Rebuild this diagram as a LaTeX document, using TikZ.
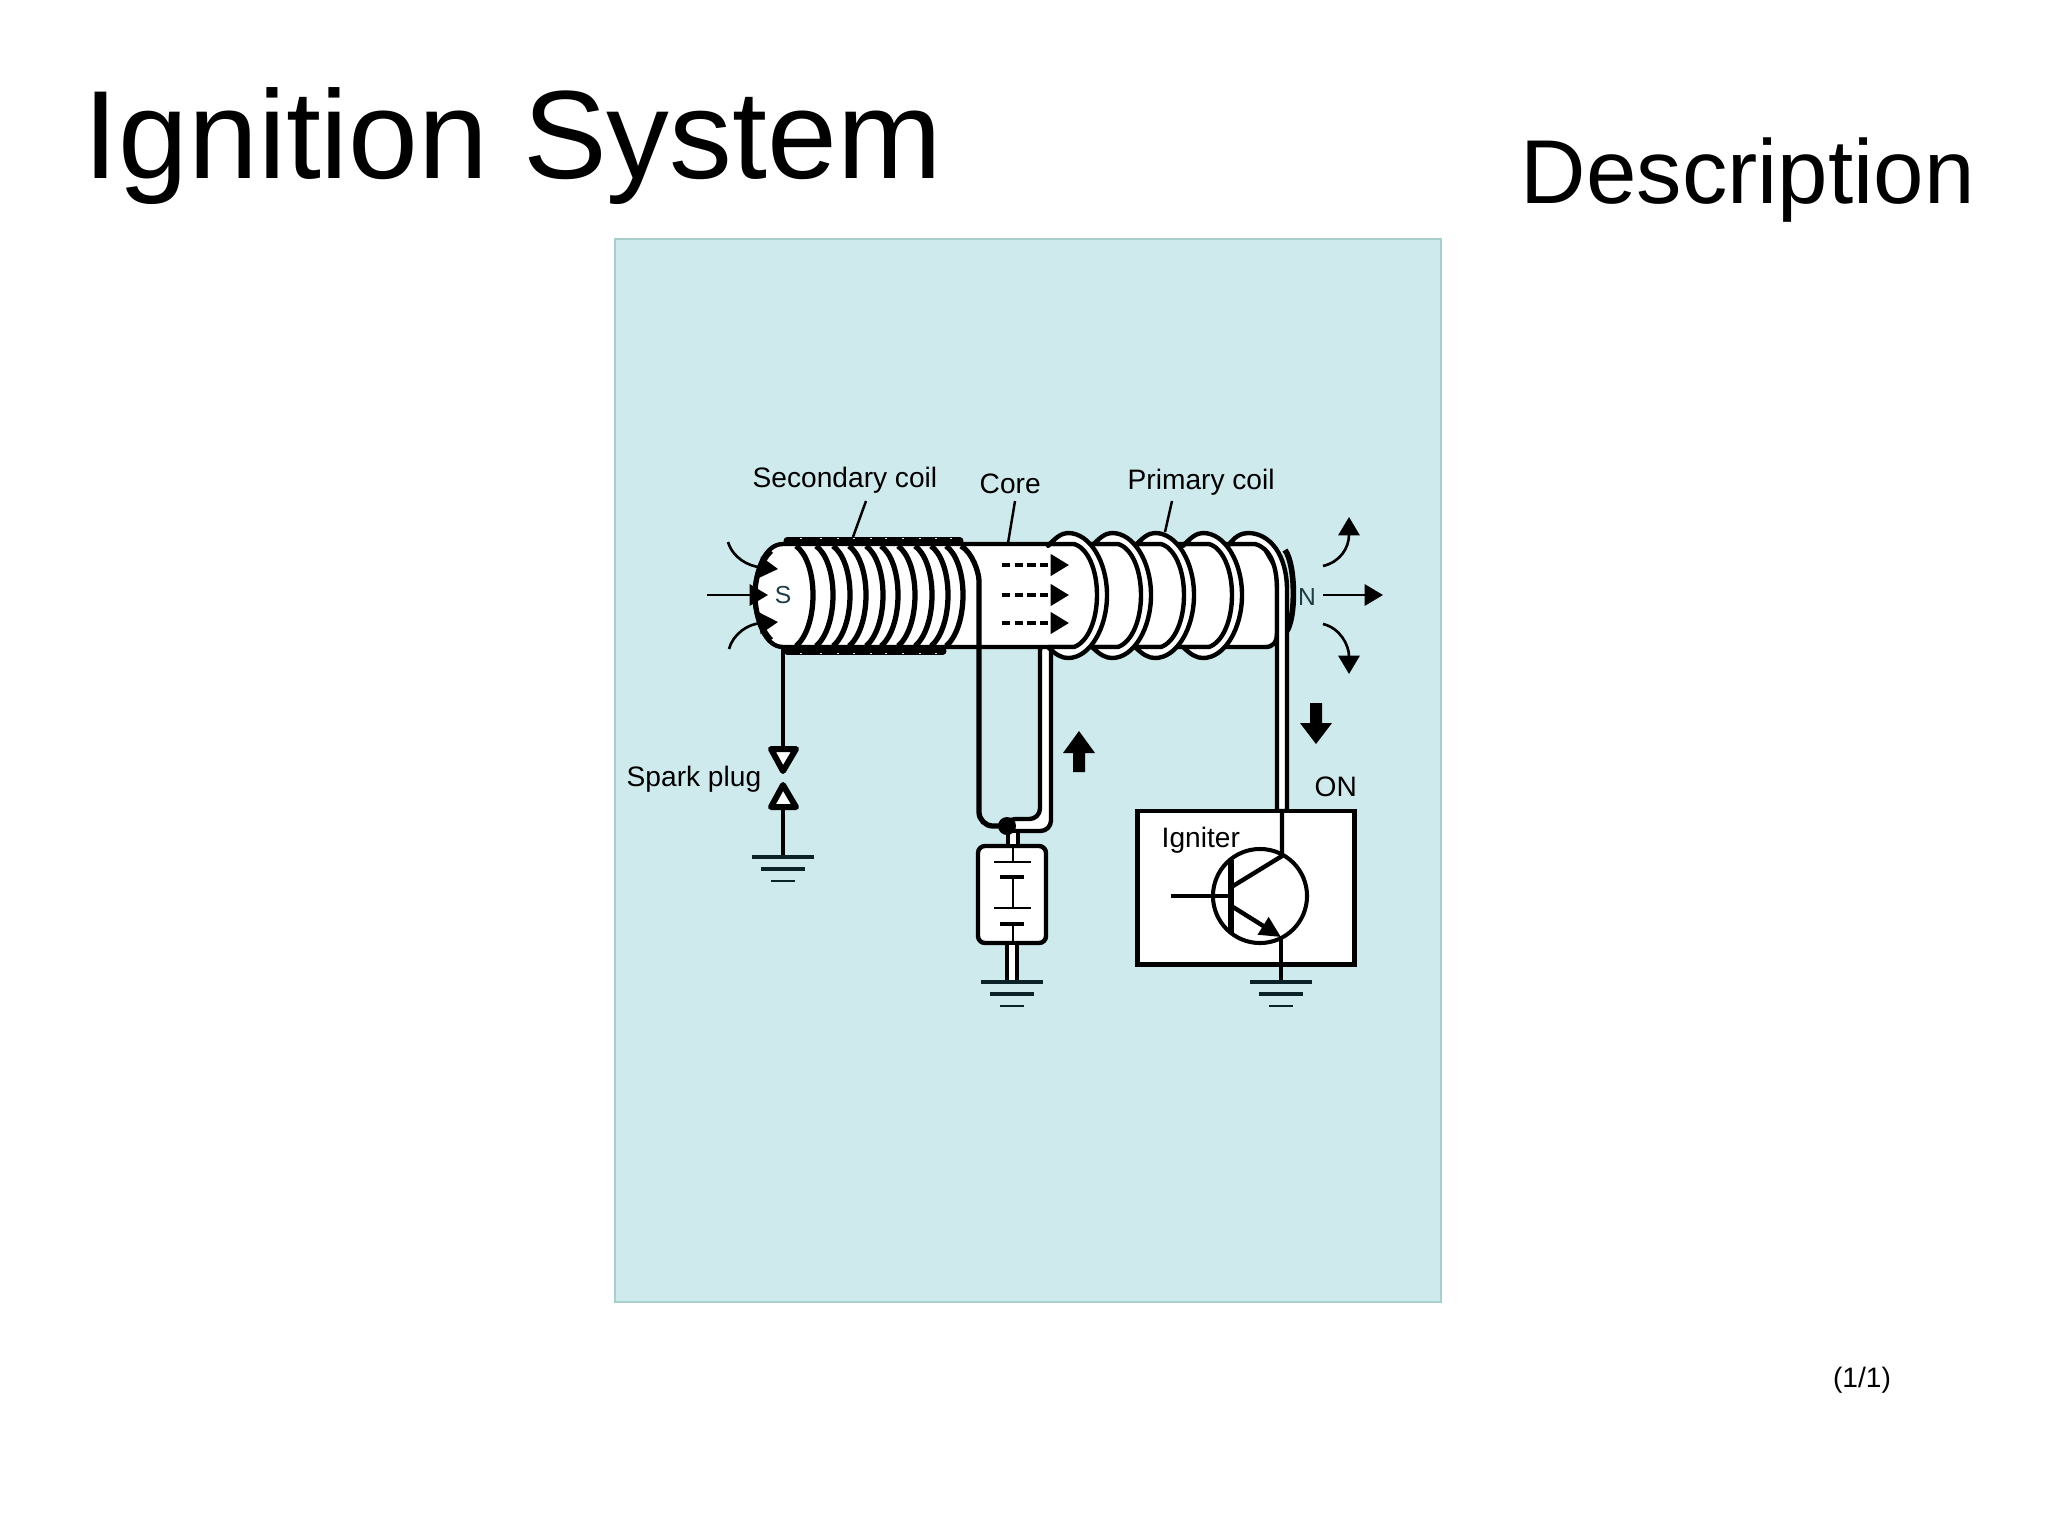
\documentclass[tikz,border=0pt]{standalone}
\usepackage{xcolor}
\usepackage{fontspec}
\setmainfont{Liberation Sans}
\usetikzlibrary{arrows.meta}

\definecolor{panelbg}{HTML}{CFEAED}
\definecolor{panelline}{HTML}{A8CFCC}
\definecolor{earthline}{HTML}{0A2228}
\definecolor{poletext}{HTML}{1C3C46}

\tikzset{
    wire/.style={line width=1.25pt, line join=round},
    coilturn/.style={line width=1.5pt},
    leader/.style={line width=0.7pt},
    field/.style={line width=0.75pt, -{Triangle[length=5.2pt,width=6pt]}},
    flux/.style={line width=1.05pt, dash pattern=on 2.4pt off 1.2pt, -{Triangle[length=5.2pt,width=6pt]}},
    label/.style={anchor=base west, inner sep=0pt, font=\fontsize{8}{10}\selectfont},
    pole/.style={inner sep=0pt, text=poletext, font=\fontsize{7}{8}\selectfont},
    block/.style={fill=black, line join=round},
    tipmark/.style={wire, fill=white, line width=1.7pt}
}

\begin{document}
\begin{tikzpicture}[x=0.01cm, y=-0.01cm]
    \useasboundingbox (0,0) rectangle (2048,1536);
    \fill[white] (0,0) rectangle (2048,1536);

    % Headings
    \node[anchor=base west, inner sep=0pt, font=\fontsize{35.7}{40}\selectfont] (title) at (83,178) {Ignition System};
    \node[anchor=base west, inner sep=0pt, font=\fontsize{25.8}{30}\selectfont] (subtitle) at (1520,203) {Description};
    \node[label, anchor=base] (pageno) at (1862,1387) {(1/1)};

    % Panel
    \draw[panelline, fill=panelbg, line width=0.6pt] (615,239) rectangle (1441,1302);

    % Labels
    \node[label] (lblsec) at (752,487) {Secondary coil};
    \node[label] (lblcore) at (979,493) {Core};
    \node[label] (lblpri) at (1127,489) {Primary coil};
    \node[label] (lblplug) at (626,786) {Spark plug};
    \node[label] (lblon) at (1314,796) {ON};
    \coordinate (secfrom) at (866,501);
    \coordinate (secto) at (853,537);
    \coordinate (corefrom) at (1015,501);
    \coordinate (coreto) at (1008,543);
    \coordinate (prifrom) at (1172,501);
    \coordinate (prito) at (1165,532);
    \draw[leader] (secfrom) -- (secto);
    \draw[leader] (corefrom) -- (coreto);
    \draw[leader] (prifrom) -- (prito);

    % Battery feed
    \draw[wire, fill=white, rounded corners=3pt] (1040,640) -- (1040,819) -- (1005,819) -- (1005,831)
        -- (1051,831) -- (1051,640) -- cycle;

    % Core
    \draw[wire, fill=white] (783,544) -- (1262,544) -- (1277,570) -- (1277,632)
        .. controls (1277,643) and (1273,647) .. (1265,647) -- (783,647)
        .. controls (765,647) and (755,620) .. (755,595)
        .. controls (755,570) and (765,544) .. (783,544) -- cycle;
    \draw[coilturn] (771,640) .. controls (760,628) and (755,612) .. (755,595)
        .. controls (755,578) and (760,562) .. (771,551);

    % Secondary coil
    \draw[line width=2pt, line cap=round] (787,541) -- (960,541);
    \draw[line width=2pt, line cap=round] (787,651) -- (943,651);
    \foreach \tx in {813,833,850,866,883,898,915,932,948,963} {
        \draw[coilturn] (\tx-17,546) .. controls (\tx-7,553) and (\tx,572) .. (\tx,595)
            .. controls (\tx,618) and (\tx-7,638) .. (\tx-17,646);
        \draw[panelbg, line width=0.5pt] (\tx-13,538.5) -- (\tx-11,538.5);
        \draw[panelbg, line width=0.5pt] (\tx-13,653.5) -- (\tx-11,653.5);
    }
    \draw[coilturn, rounded corners=4pt] (961,546) .. controls (972,552) and (979,572) .. (979,595)
        -- (979,826) -- (1005,826);
    \node[pole] (spole) at (783,595) {S};

    % Flux in the core
    \foreach \fy in {565,595,623} {
        \draw[flux] (1002,\fy) -- (1069,\fy);
    }

    % Lines of force
    \coordinate (sleft) at (707,595);
    \coordinate (stip) at (768,595);
    \coordinate (ntail) at (1323,595);
    \coordinate (ntip) at (1383,595);
    \draw[field] (sleft) -- (stip);
    \draw[field] (728,542) .. controls (733,558) and (748,566) .. (778,569);
    \draw[field] (729,649) .. controls (733,634) and (748,624) .. (778,622);
    \draw[field] (ntail) -- (ntip);
    \draw[field] (1323,566) .. controls (1340,562) and (1349,548) .. (1349,517);
    \draw[field] (1323,624) .. controls (1340,628) and (1349,645) .. (1349,674);
    \node[pole] (npole) at (1307,597) {N};

    % Primary coil
    \draw[line width=1.6pt] (1285,550) .. controls (1296,565) and (1296,620) .. (1286,632);
    \draw[wire, fill=white] (1228,544) -- (1228,546) .. controls (1234,537) and (1241,533) .. (1248,533)
        .. controls (1270,533) and (1287,555) .. (1287,590) -- (1287,811) -- (1277,811) -- (1277,590)
        .. controls (1277,565) and (1270,548) .. (1255,544) -- cycle;
    \foreach \lx in {1203,1155,1112,1068} {
        \draw[wire, fill=white] (\lx-20,544) -- (\lx-20,546)
            .. controls (\lx-12,537) and (\lx-6,533) .. (\lx,533)
            .. controls (\lx+22,533) and (\lx+39,562) .. (\lx+39,595)
            .. controls (\lx+39,628) and (\lx+22,658) .. (\lx,658)
            .. controls (\lx-6,658) and (\lx-12,655) .. (\lx-20,647)
            -- (\lx+6,647) .. controls (\lx+20,642) and (\lx+29,620) .. (\lx+29,595)
            .. controls (\lx+29,570) and (\lx+20,548) .. (\lx+6,544) -- cycle;
    }

    % Spark plug
    \coordinate (plugtop) at (783,748);
    \coordinate (plugbase) at (783,808);
    \coordinate (plugearth) at (783,857);
    \draw[wire] (783,649) -- (plugtop);
    \draw[wire] (plugbase) -- (plugearth);
    \draw[tipmark] (771,749) -- (796,749) -- (783,771) -- cycle;
    \draw[tipmark] (771,807) -- (796,807) -- (783,785) -- cycle;

    % Battery
    \node[draw, wire, fill=white, rounded corners=2pt, inner sep=0pt, minimum width=0.68cm, minimum height=0.97cm] (batt) at (1012,894.5) {};
    \draw[wire, fill=white] (1008,831) rectangle (1018,846);
    \draw[wire, fill=white] (1007,943) rectangle (1017,982);
    \node[circle, fill=black, inner sep=0pt, minimum size=0.18cm] (junction) at (1007,826) {};
    \draw[line width=0.8pt] (1013,846) -- (1013,862);
    \draw[line width=0.8pt] (994,862) -- (1031,862);
    \draw[line width=1.3pt] (1000,877) -- (1024,877);
    \draw[line width=0.8pt] (1013,877) -- (1013,908);
    \draw[line width=0.8pt] (994,908) -- (1031,908);
    \draw[line width=1.3pt] (1000,924) -- (1024,924);
    \draw[line width=0.8pt] (1013,924) -- (1013,941);

    % Igniter
    \node[draw, fill=white, line width=1.4pt, inner sep=0pt, minimum width=2.16cm, minimum height=1.53cm] (igniter) at (1246,887.5) {};
    \node[label] (lblign) at (1161,847) {Igniter};
    \node[draw, circle, line width=1.15pt, inner sep=0pt, minimum size=0.94cm] (trans) at (1260,896) {};
    \coordinate (basein) at (1171,896);
    \coordinate (basebar) at (1231,896);
    \draw[wire] (basein) -- (basebar);
    \draw[line width=1.8pt] (1231,860) -- (1231,933);
    \draw[wire] (1233,886) -- (1282,856) -- (1282,811);
    \draw[wire, -{Triangle[length=6pt,width=5.6pt]}] (1233,907) -- (1281,937);
    \draw[wire] (1281,936) -- (1281,982);

    % Current arrows
    \fill[block] (1079,731) -- (1095,753) -- (1085,753) -- (1085,772) -- (1073,772) -- (1073,753) -- (1063,753) -- cycle;
    \fill[block] (1316,744) -- (1300,723) -- (1310,723) -- (1310,703) -- (1322,703) -- (1322,723) -- (1332,723) -- cycle;

    % Earth symbols
    \foreach \gx/\gy in {783/857,1012/982,1281/982} {
        \draw[line width=1.4pt, earthline] (\gx-31,\gy) -- (\gx+31,\gy);
        \draw[line width=0.95pt, earthline] (\gx-22,\gy+12) -- (\gx+22,\gy+12);
        \draw[line width=0.75pt, earthline] (\gx-12,\gy+24) -- (\gx+12,\gy+24);
    }
\end{tikzpicture}
\end{document}
